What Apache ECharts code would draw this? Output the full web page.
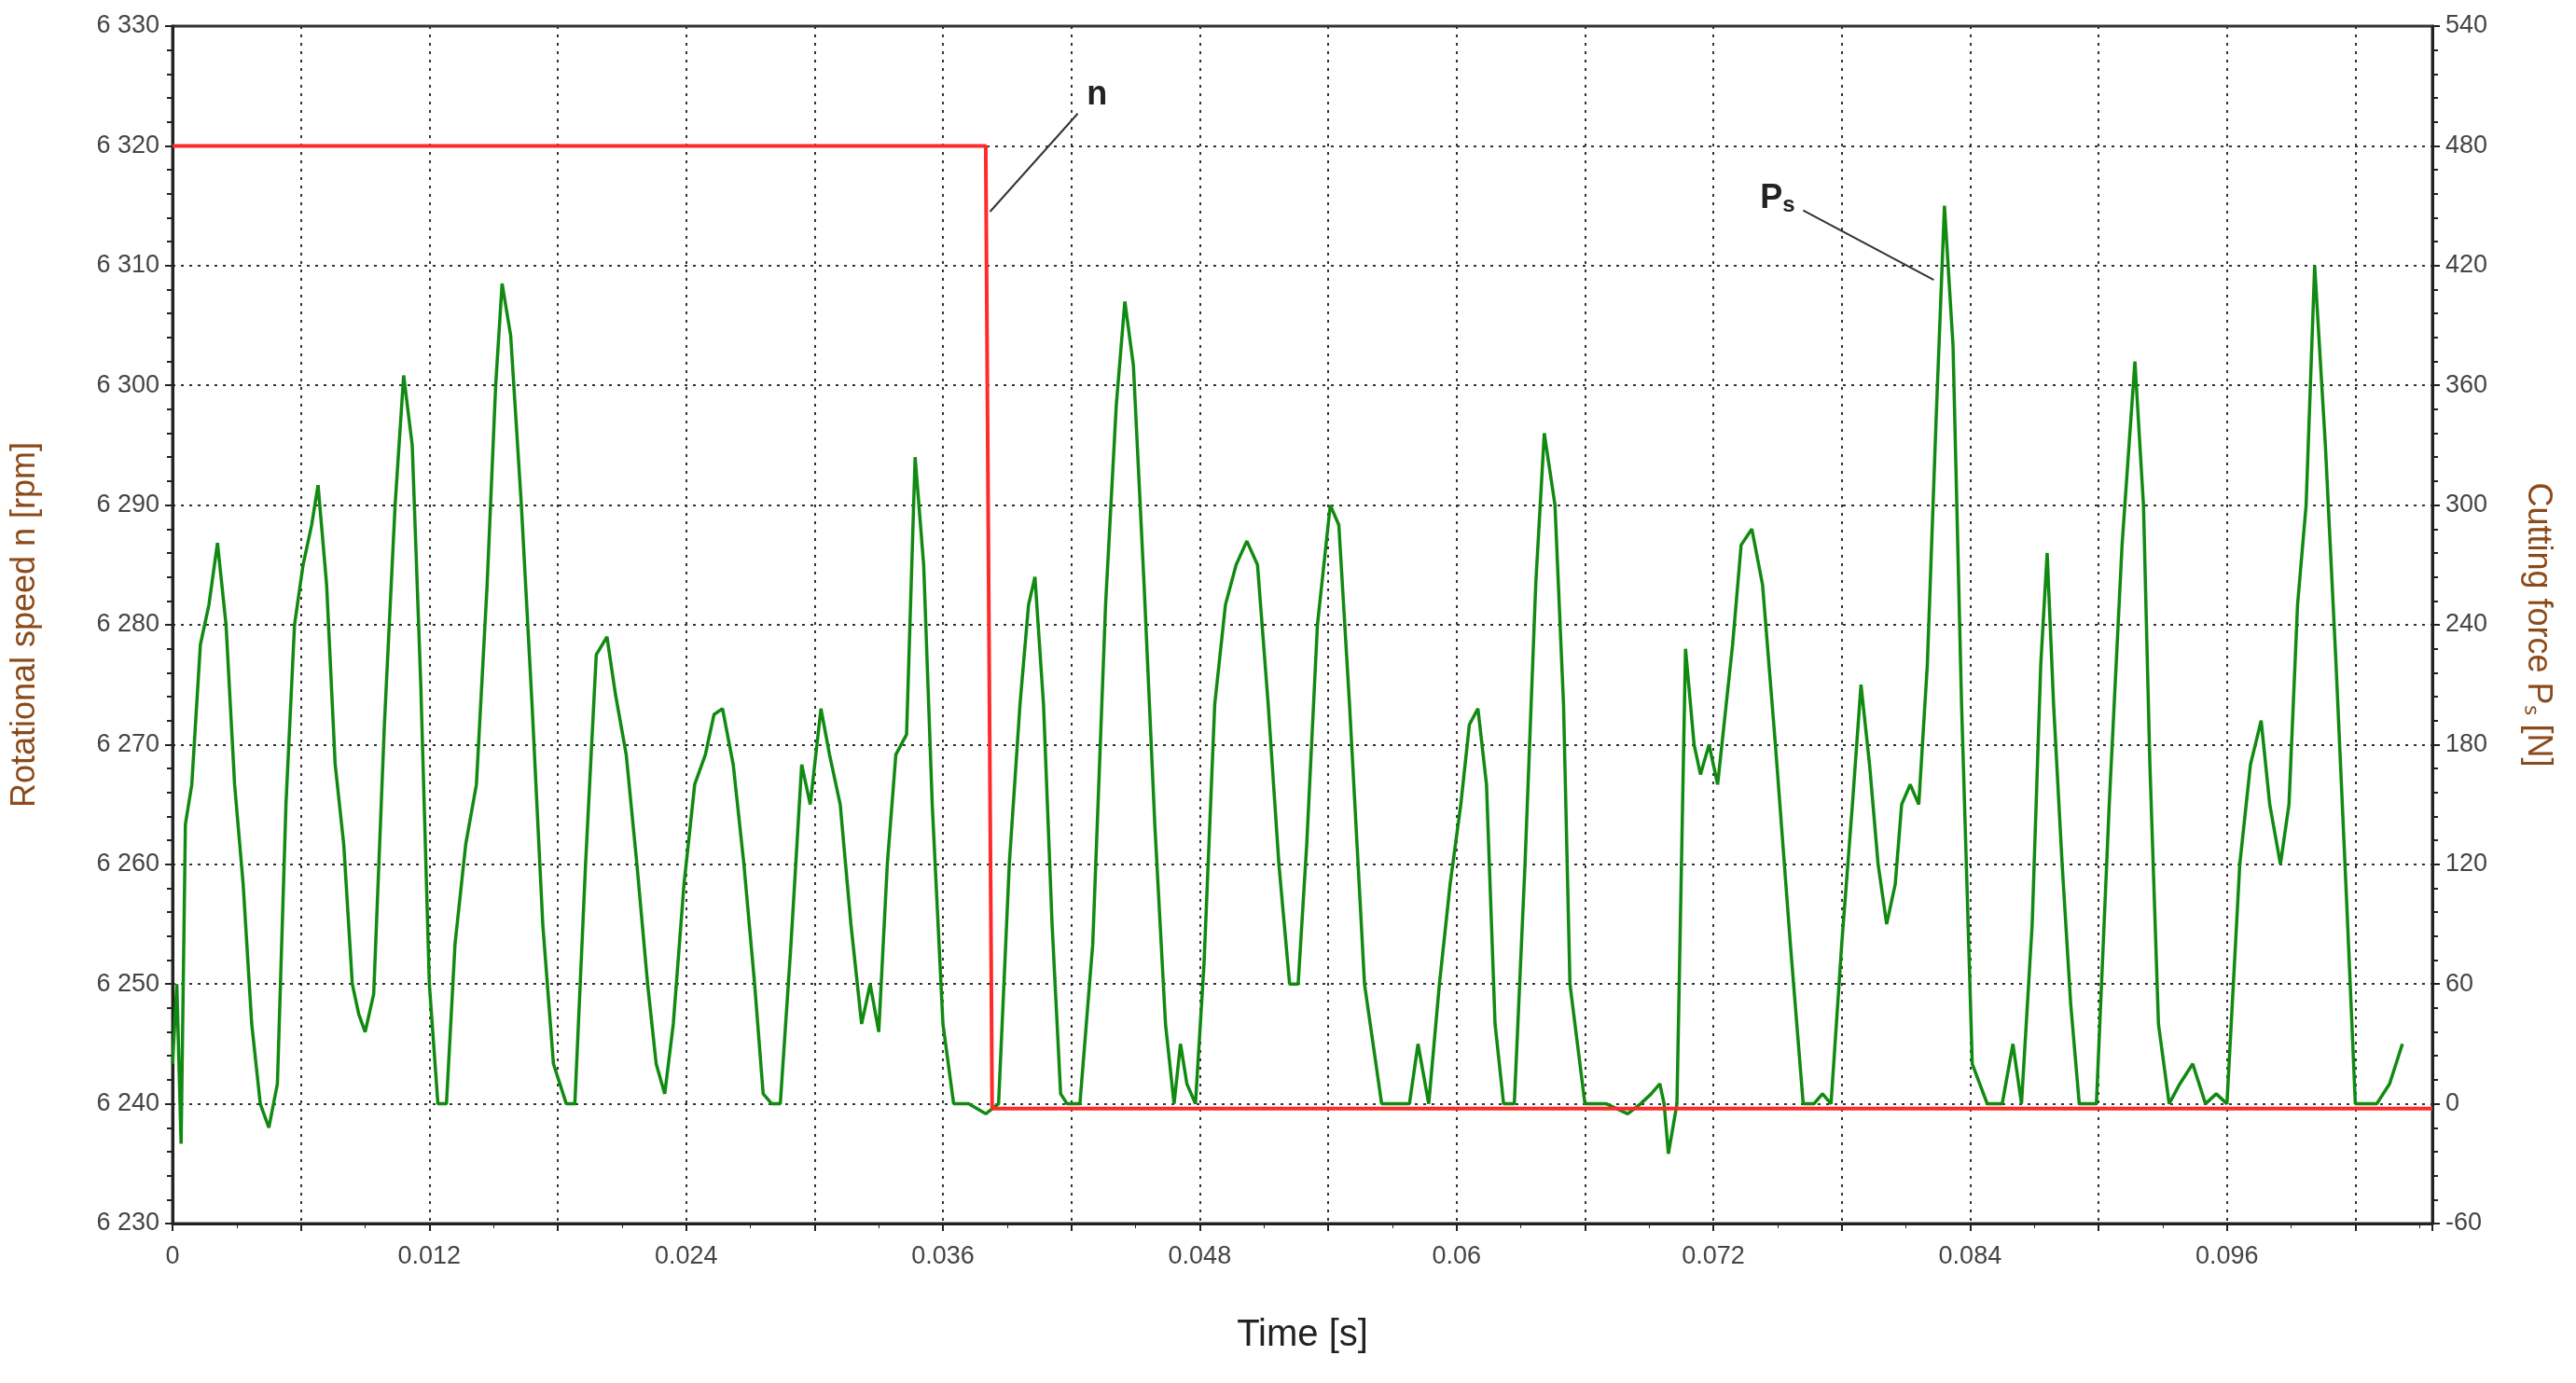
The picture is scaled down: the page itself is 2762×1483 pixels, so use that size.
<!DOCTYPE html>
<html><head><meta charset="utf-8">
<script src="https://cdn.jsdelivr.net/npm/echarts@6/dist/echarts.min.js"></script>
<style>html,body{margin:0;padding:0;background:#fff}#c{width:2762px;height:1483px}</style>
</head><body><div id="c"></div>
<script>
const speedTime = [0, 0.0380, 0.0383, 0.1056];
const speedRpm = [6320, 6320, 6239.6, 6239.6];
const forceTime = [0,0.0002,0.0004,0.0006,0.0009,0.0013,0.0017,0.0021,0.0025,0.0029,0.0033,0.0037,0.0041,0.0045,0.0049,0.0053,0.0057,0.0061,0.0065,0.0068,0.0072,0.0076,0.0080,0.0084,0.0087,0.0090,0.0094,0.0099,0.0104,0.0108,0.0112,0.0116,0.0120,0.0124,0.0128,0.0132,0.0137,0.0142,0.0147,0.0151,0.0154,0.0158,0.0163,0.0168,0.0173,0.0178,0.0184,0.0188,0.0193,0.0198,0.0203,0.0207,0.0212,0.0217,0.0222,0.0226,0.0230,0.0234,0.0239,0.0244,0.0249,0.0253,0.0257,0.0262,0.0267,0.0272,0.0276,0.0280,0.0284,0.0289,0.0294,0.0298,0.0303,0.0307,0.0312,0.0317,0.0322,0.0326,0.0330,0.0334,0.0338,0.0343,0.0347,0.0351,0.0355,0.0360,0.0365,0.0372,0.0380,0.0386,0.0391,0.0396,0.0400,0.0403,0.0407,0.0411,0.0415,0.0418,0.0424,0.0430,0.0436,0.0441,0.0445,0.0449,0.0454,0.0459,0.0464,0.0468,0.0471,0.0474,0.0478,0.0482,0.0487,0.0492,0.0497,0.0502,0.0507,0.0512,0.0517,0.0522,0.0526,0.0530,0.0535,0.0541,0.0545,0.0550,0.0557,0.0565,0.0572,0.0578,0.0582,0.0587,0.0592,0.0597,0.0602,0.0606,0.0610,0.0614,0.0618,0.0622,0.0627,0.0632,0.0637,0.0641,0.0646,0.0650,0.0653,0.0660,0.0670,0.0680,0.0686,0.0691,0.0695,0.0697,0.0699,0.0703,0.0707,0.0711,0.0714,0.0718,0.0722,0.0726,0.0729,0.0733,0.0738,0.0743,0.0749,0.0756,0.0762,0.0767,0.0771,0.0775,0.0780,0.0785,0.0789,0.0793,0.0797,0.0801,0.0805,0.0808,0.0812,0.0816,0.0820,0.0824,0.0828,0.0832,0.0836,0.0841,0.0848,0.0855,0.0860,0.0864,0.0869,0.0873,0.0876,0.0879,0.0883,0.0887,0.0891,0.0894,0.0899,0.0905,0.0911,0.0917,0.0921,0.0924,0.0928,0.0933,0.0938,0.0944,0.0950,0.0955,0.0960,0.0966,0.0971,0.0976,0.0980,0.0985,0.0989,0.0993,0.0997,0.1001,0.1006,0.1011,0.1016,0.1020,0.1025,0.1030,0.1036,0.1042,0.1048,0.1053,0.1056];
const forceN = [20,60,-20,140,160,230,250,281,240,160,110,40,0,-12,10,150,240,270,290,310,260,170,130,60,45,36,55,190,300,365,330,210,60,0,0,80,130,160,260,360,411,385,300,200,90,20,0,0,120,225,234,205,175,120,60,20,5,40,110,160,175,195,198,170,120,60,5,0,0,80,170,150,198,175,150,90,40,60,36,120,175,185,324,270,150,40,0,0,-5,0,120,200,250,264,200,90,5,0,0,80,250,350,402,370,260,140,40,0,30,10,0,70,200,250,270,282,270,200,120,60,60,130,240,300,290,200,60,0,0,0,30,0,60,110,150,190,198,160,40,0,0,120,260,336,300,200,60,0,0,-5,0,5,10,0,-25,0,228,180,165,180,160,200,230,280,288,260,180,80,0,0,5,0,80,150,210,170,120,90,110,150,160,150,220,340,450,380,200,20,0,0,30,0,90,220,276,200,120,50,0,0,0,150,280,372,300,170,40,0,10,20,0,5,0,120,170,192,150,120,150,250,300,420,330,220,100,0,0,0,10,30];
const leftTicks = [6230,6240,6250,6260,6270,6280,6290,6300,6310,6320,6330];

const fmtRpm = v => { const s = String(v); return s[0] + ' ' + s.slice(1); };
const chart = echarts.init(document.getElementById('c'));
const lbl = {color:'#444', fontSize:27, fontFamily:'Liberation Sans, Arial'};
const axLine = {show:true, onZero:false, lineStyle:{color:'#222', width:3}};
const grid = {left:185, right:154, top:28, bottom:171, show:true, borderColor:'#333', borderWidth:3, backgroundColor:'transparent'};
chart.setOption({
  animation:false,
  grid: grid,
  xAxis: {type:'value', min:0, max:0.1056, interval:0.006,
    name:'Time [s]', nameLocation:'middle', nameGap:100,
    nameTextStyle:{color:'#222', fontSize:40, fontFamily:'Liberation Sans, Arial'},
    axisLine:axLine, axisTick:{show:true, length:8, lineStyle:{color:'#222', width:2}},
    minorTick:{show:true, splitNumber:2, length:5, lineStyle:{color:'#222'}},
    axisLabel:Object.assign({}, lbl, {margin:22, formatter: v => (Math.round(v*1000) % 12 === 0) ? String(+v.toFixed(3)) : '', showMaxLabel:false}),
    splitLine:{show:true, lineStyle:{color:'#333', type:[3,6], width:2}}},
  yAxis: [
    {type:'value', min:6230, max:6330, interval:10, position:'left',
      name:'Rotational speed n [rpm]', nameLocation:'middle', nameGap:140,
      nameTextStyle:{color:'#8a4a1a', fontSize:36, fontFamily:'Liberation Sans, Arial'},
      axisLine:axLine, axisTick:{show:true, length:8, lineStyle:{color:'#222', width:2}},
      minorTick:{show:true, splitNumber:5, length:6, lineStyle:{color:'#222', width:2}},
      axisLabel:Object.assign({}, lbl, {formatter: fmtRpm, margin:14}),
      splitLine:{show:true, lineStyle:{color:'#333', type:[3,6], width:2}}},
    {type:'value', min:-60, max:540, interval:60, position:'right',
      name:'Cutting force Pₛ [N]', nameLocation:'middle', nameGap:95, nameRotate:-90,
      nameTextStyle:{color:'#8a4a1a', fontSize:36, fontFamily:'Liberation Sans, Arial'},
      axisLine:axLine, axisTick:{show:true, length:8, lineStyle:{color:'#222', width:2}},
      minorTick:{show:true, splitNumber:5, length:6, lineStyle:{color:'#222', width:2}},
      axisLabel:Object.assign({}, lbl, {margin:14}),
      splitLine:{show:false}}
  ],
  series: [
    {type:'line', yAxisIndex:1, showSymbol:false, lineStyle:{color:'#118a11', width:3.5},
      data: forceTime.map((t,i)=>[t, forceN[i]]), z:2},
    {type:'line', yAxisIndex:0, showSymbol:false, lineStyle:{color:'#ff2a2a', width:4},
      data: speedTime.map((t,i)=>[t, speedRpm[i]]), z:3}
  ]
});
const p = (t, r) => chart.convertToPixel({xAxisIndex:0, yAxisIndex:0}, [t, r]);
const a1 = p(0.0423, 6322.7), a2 = p(0.0382, 6314.5), n1 = p(0.0432, 6324.2);
const b1 = p(0.0762, 6314.6), b2 = p(0.0823, 6308.8), s1 = p(0.0750, 6315.6);
chart.setOption({graphic:[
  {type:'line', shape:{x1:a1[0], y1:a1[1], x2:a2[0], y2:a2[1]}, style:{stroke:'#333', lineWidth:2}},
  {type:'line', shape:{x1:b1[0], y1:b1[1], x2:b2[0], y2:b2[1]}, style:{stroke:'#333', lineWidth:2}},
  {type:'text', x:n1[0], y:n1[1], style:{text:'n', fill:'#222', font:'bold 36px Liberation Sans', align:'center', verticalAlign:'middle'}},
  {type:'text', x:s1[0], y:s1[1], style:{text:'{a|P}{b|s}', fill:'#222', align:'center', verticalAlign:'middle',
    rich:{a:{font:'bold 36px Liberation Sans', fill:'#222'}, b:{font:'bold 24px Liberation Sans', fill:'#222', padding:[14,0,0,0]}}}}
]});
</script></body></html>
